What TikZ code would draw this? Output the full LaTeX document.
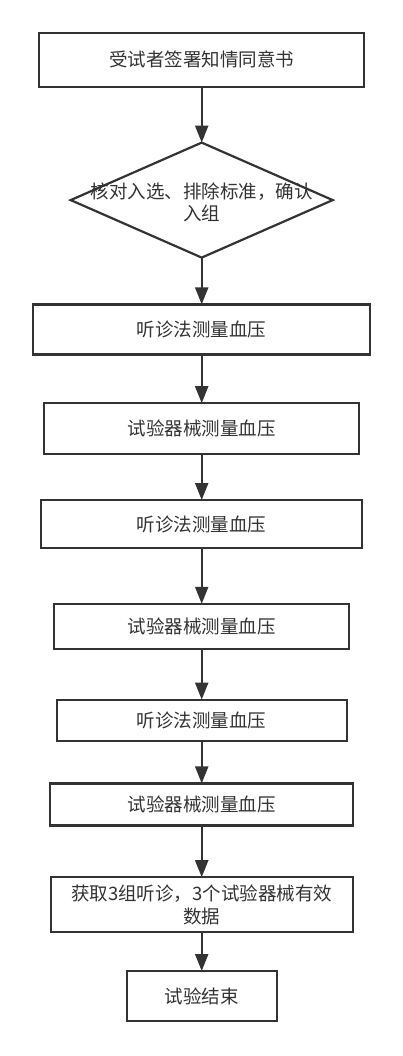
\documentclass[tikz,border=0pt]{standalone}
\usepackage{fontspec}
\usepackage{xcolor}
\newfontfamily\cjk{Noto Sans CJK SC}
\usetikzlibrary{arrows.meta,positioning,shapes.geometric}
\definecolor{ink}{HTML}{333333}

\begin{document}
\begin{tikzpicture}[>={Triangle[length=17pt,width=13pt]},line width=2.2pt,
 s/.style={draw=ink,text=ink,rectangle,inner sep=0pt,outer sep=0pt,align=center,font=\cjk\fontsize{18.5}{22.5}\selectfont},
 d/.style={s,diamond,minimum width=262pt,minimum height=115pt}]
 \path[use as bounding box,fill=white] (0,0) rectangle (403pt,-1056pt);
 \node[s,minimum width=325pt,minimum height=54pt] (cons) at (201.7pt,-59.8pt) {受试者签署知情同意书};
 \node[d,below=55.8pt of cons] (chk) {};
 \node[text=ink,align=center,font=\cjk\fontsize{18.5}{22.5}\selectfont] (chkt) at ([yshift=-2pt]chk.center) {核对入选、排除标准，确认\\入组};
 \node[s,minimum width=337pt,minimum height=50pt,below=46.8pt of chk] (aus1) {听诊法测量血压};
 \node[s,minimum width=315pt,minimum height=51pt,below=48.8pt of aus1] (dev1) {试验器械测量血压};
 \node[s,minimum width=321pt,minimum height=48pt,below=45.8pt of dev1] (aus2) {听诊法测量血压};
 \node[s,minimum width=295pt,minimum height=45pt,below=55.8pt of aus2] (dev2) {试验器械测量血压};
 \node[s,minimum width=290pt,minimum height=41pt,below=50.8pt of dev2] (aus3) {听诊法测量血压};
 \node[s,minimum width=303pt,minimum height=42pt,below=42.8pt of aus3] (dev3) {试验器械测量血压};
 \node[s,minimum width=302pt,minimum height=55pt,below=51.8pt of dev3] (data) {获取3组听诊，3个试验器械有效\\数据};
 \node[s,minimum width=150pt,minimum height=50pt,below=38.8pt of data] (fin) {试验结束};
 \draw[->,ink] (cons)--(chk); \draw[->,ink] (chk)--(aus1); \draw[->,ink] (aus1)--(dev1);
 \draw[->,ink] (dev1)--(aus2); \draw[->,ink] (aus2)--(dev2); \draw[->,ink] (dev2)--(aus3);
 \draw[->,ink] (aus3)--(dev3); \draw[->,ink] (dev3)--(data); \draw[->,ink] (data)--(fin);
\end{tikzpicture}
\end{document}
